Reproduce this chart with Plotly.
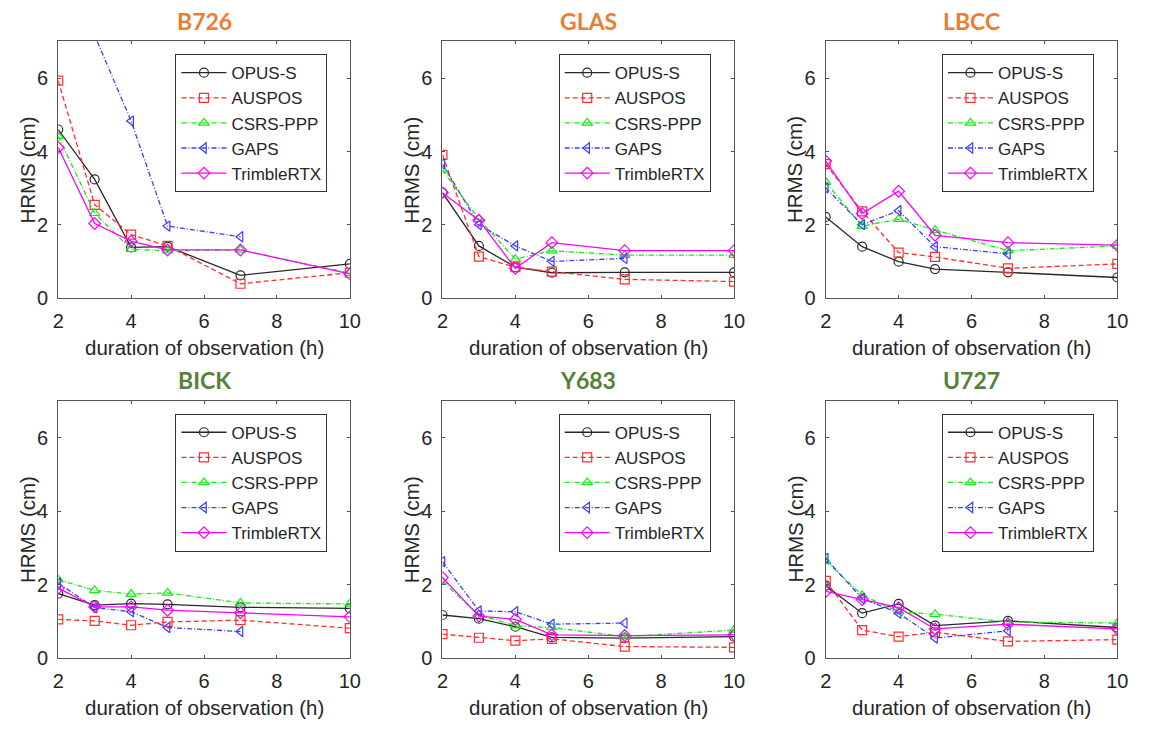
import plotly.graph_objects as go

# ---------------- data ----------------
hours = [2, 3, 4, 5, 7, 10]
gaps_hours = [2, 3, 4, 5, 7]
services = ["OPUS-S", "AUSPOS", "CSRS-PPP", "GAPS", "TrimbleRTX"]
stations = ["B726", "GLAS", "LBCC", "BICK", "Y683", "U727"]

B726 = {
    "OPUS-S":     [4.60, 3.24, 1.39, 1.41, 0.63, 0.94],
    "AUSPOS":     [5.93, 2.55, 1.74, 1.43, 0.40, 0.70],
    "CSRS-PPP":   [4.42, 2.32, 1.34, 1.30, 1.32, 0.69],
    "GAPS":       [9.50, 7.15, 4.83, 1.97, 1.68],
    "TrimbleRTX": [4.11, 2.04, 1.56, 1.32, 1.32, 0.67],
}
GLAS = {
    "OPUS-S":     [2.88, 1.43, 0.85, 0.70, 0.71, 0.71],
    "AUSPOS":     [3.91, 1.14, 0.85, 0.73, 0.52, 0.46],
    "CSRS-PPP":   [3.50, 2.16, 1.07, 1.30, 1.18, 1.18],
    "GAPS":       [3.66, 2.01, 1.43, 1.01, 1.09],
    "TrimbleRTX": [2.88, 2.13, 0.82, 1.52, 1.30, 1.30],
}
LBCC = {
    "OPUS-S":     [2.22, 1.41, 1.00, 0.80, 0.71, 0.57],
    "AUSPOS":     [3.66, 2.37, 1.25, 1.13, 0.82, 0.94],
    "CSRS-PPP":   [3.17, 1.97, 2.16, 1.86, 1.30, 1.43],
    "GAPS":       [3.01, 2.01, 2.39, 1.41, 1.21],
    "TrimbleRTX": [3.74, 2.31, 2.92, 1.72, 1.52, 1.45],
}
BICK = {
    "OPUS-S":     [1.75, 1.44, 1.48, 1.46, 1.38, 1.35],
    "AUSPOS":     [1.05, 1.01, 0.89, 0.98, 1.03, 0.81],
    "CSRS-PPP":   [2.13, 1.84, 1.74, 1.77, 1.50, 1.47],
    "GAPS":       [2.04, 1.37, 1.26, 0.83, 0.72],
    "TrimbleRTX": [1.90, 1.39, 1.39, 1.30, 1.23, 1.12],
}
Y683 = {
    "OPUS-S":     [1.17, 1.07, 0.85, 0.56, 0.54, 0.58],
    "AUSPOS":     [0.65, 0.55, 0.47, 0.52, 0.31, 0.29],
    "CSRS-PPP":   [2.08, 1.17, 0.88, 0.83, 0.58, 0.76],
    "GAPS":       [2.62, 1.28, 1.26, 0.92, 0.95],
    "TrimbleRTX": [2.19, 1.14, 1.05, 0.63, 0.61, 0.63],
}
U727 = {
    "OPUS-S":     [1.97, 1.22, 1.47, 0.88, 1.01, 0.83],
    "AUSPOS":     [2.10, 0.76, 0.58, 0.70, 0.45, 0.50],
    "CSRS-PPP":   [2.64, 1.71, 1.26, 1.19, 0.98, 0.95],
    "GAPS":       [2.71, 1.62, 1.22, 0.54, 0.74],
    "TrimbleRTX": [1.81, 1.59, 1.37, 0.79, 0.92, 0.79],
}
station_data = [B726, GLAS, LBCC, BICK, Y683, U727]
title_colors = ["#ED7D31"] * 3 + ["#548235"] * 3

x_ticks = [2, 4, 6, 8, 10]
y_ticks = [0, 2, 4, 6]

# ---------------- styles ----------------
style = {
    "OPUS-S":     dict(color="rgb(40,40,40)", dash="solid", symbol="circle-open"),
    "AUSPOS":     dict(color="rgb(255,45,45)", dash="5px,3px", symbol="square-open"),
    "CSRS-PPP":   dict(color="rgb(20,235,20)", dash="5px,2px,1px,2px", symbol="triangle-up-open"),
    "GAPS":       dict(color="rgb(60,60,255)", dash="5px,2px,1px,2px", symbol="triangle-left-open"),
    "TrimbleRTX": dict(color="rgb(255,0,255)", dash="solid", symbol="diamond-open"),
}

W, H = 1150, 732
# plot areas in pixels (left, right, top, bottom)
cols = [(53, 349), (443, 739), (832, 1128)]
rows = [(42, 303), (407, 668)]
legend_left = [172, 561, 950]

FONT = "Liberation Sans, Arial, sans-serif"
AXC = "#555555"
TXT = "#262626"

fig = go.Figure()
layout = dict(
    width=W, height=H, margin=dict(l=0, r=0, t=0, b=0),
    paper_bgcolor="white", plot_bgcolor="white",
    font=dict(family=FONT, color=TXT),
    annotations=[],
)

for i, (st, data) in enumerate(zip(stations, station_data)):
    r, c = divmod(i, 3)
    l, rr = cols[c]
    t, b = rows[r]
    n = i + 1
    xa = "x" if n == 1 else f"x{n}"
    ya = "y" if n == 1 else f"y{n}"
    lg = "legend" if n == 1 else f"legend{n}"
    for s in services:
        xs = gaps_hours if s == "GAPS" else hours
        stl = style[s]
        fig.add_trace(go.Scatter(
            x=xs, y=data[s], name=s, mode="lines+markers",
            xaxis=xa, yaxis=ya, legend=lg,
            line=dict(color=stl["color"], width=1.3, dash=stl["dash"]),
            marker=dict(symbol=stl["symbol"], size=9, color=stl["color"],
                        line=dict(width=1.2, color=stl["color"])),
        ))
    axis_common = dict(showline=True, linecolor=AXC, linewidth=1, mirror="ticks",
                       ticks="inside", ticklen=3, tickcolor=AXC, tickwidth=1,
                       showgrid=False, zeroline=False,
                       tickfont=dict(size=20, family=FONT, color=TXT))
    layout["xaxis" if n == 1 else f"xaxis{n}"] = dict(
        axis_common, domain=[l / W, rr / W], range=[2, 10], tickvals=x_ticks,
        anchor=ya, ticklabelstandoff=5)
    layout["yaxis" if n == 1 else f"yaxis{n}"] = dict(
        axis_common, domain=[1 - b / H, 1 - t / H], range=[0, 7], tickvals=y_ticks,
        anchor=xa, ticklabelstandoff=5)
    layout[lg] = dict(
        x=legend_left[c] / W, y=1 - (t + 13) / H, xanchor="left", yanchor="top",
        xref="paper", yref="paper",
        bgcolor="white", bordercolor="#333333", borderwidth=1,
        font=dict(size=17, family=FONT, color=TXT), itemwidth=45,
        tracegroupgap=0,
    )
    # station title
    layout["annotations"].append(dict(
        text=f"<b>{st}</b>", x=(l + rr) / 2 / W, y=1 - (t - 21) / H,
        xref="paper", yref="paper", showarrow=False, xanchor="center", yanchor="middle",
        font=dict(size=23, family="Lato, Open Sans, sans-serif", color=title_colors[i])))
    # x axis title
    layout["annotations"].append(dict(
        text="duration of observation (h)", x=(l + rr) / 2 / W, y=1 - (b + 50) / H,
        xref="paper", yref="paper", showarrow=False, xanchor="center", yanchor="middle",
        font=dict(size=20.5, family=FONT, color=TXT)))
    # y axis title
    layout["annotations"].append(dict(
        text="HRMS (cm)", x=(l - 31) / W, y=1 - (t + b) / 2 / H, textangle=-90,
        xref="paper", yref="paper", showarrow=False, xanchor="center", yanchor="middle",
        font=dict(size=20.5, family=FONT, color=TXT)))

fig.update_layout(**layout)
fig.write_html("out.html", config={"displayModeBar": False},
               post_script="document.body.style.margin='0px';")
